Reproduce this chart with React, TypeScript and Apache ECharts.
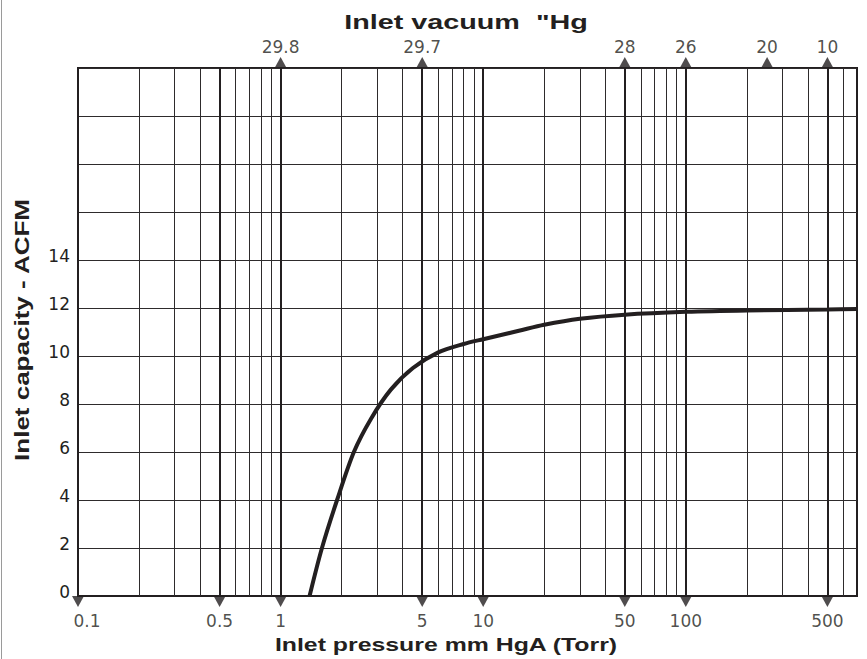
import React, { useEffect, useRef } from "react";
import * as echarts from "echarts";

// Curve: inlet pressure (Torr) vs inlet capacity (ACFM)
const pressure = [1.39, 1.6, 1.9, 2.3, 2.8, 3.5, 4.5, 6, 8, 10, 15, 20, 30, 50, 100, 200, 500, 700];
const capacity = [0, 2.0, 4.0, 6.0, 7.4, 8.6, 9.5, 10.15, 10.5, 10.7, 11.05, 11.3, 11.55, 11.72, 11.84, 11.9, 11.94, 11.96];

// Vertical grid lines (log paper)
const minorGrid = [0.2, 0.3, 0.4, 0.6, 0.7, 0.8, 0.9, 2, 3, 4, 6, 7, 8, 9, 20, 30, 40, 60, 70, 80, 90, 200, 300, 400, 600];
const majorGrid = [0.5, 1, 5, 10, 50, 100, 500];

// Bottom axis ticks (pressure, Torr)
const pressureTicks = [0.1, 0.5, 1, 5, 10, 50, 100, 500];
const pressureLabels = ["0.1", "0.5", "1", "5", "10", "50", "100", "500"];

// Top axis ticks (vacuum "Hg), placed at pressure
const vacuumTickPressure = [1, 5, 50, 100, 252, 500];
const vacuumLabels = ["29.8", "29.7", "28", "26", "20", "10"];

const X_MIN = 0.1;
const X_MAX = 700;
const Y_MIN = 0;
const Y_MAX = 22;
const Y_LABEL_MAX = 14;

const INK = "#231f20";
const GRID = "#2e2b2c";
const FONT = "Liberation Sans, Arial, sans-serif";
const NUM_FONT = "DejaVu Sans, sans-serif";

export default function App() {
  const ref = useRef<HTMLDivElement>(null);

  useEffect(() => {
    if (!ref.current) return;
    const chart = echarts.init(ref.current, undefined, { renderer: "svg" });

    const gridLines = [
      ...minorGrid.map((v) => ({ xAxis: v, lineStyle: { color: GRID, width: 1, type: "solid" } })),
      ...majorGrid.map((v) => ({ xAxis: v, lineStyle: { color: INK, width: 2, type: "solid" } })),
    ];

    const option: any = {
      animation: false,
      backgroundColor: "#ffffff",
      grid: {
        left: 78,
        right: 10,
        top: 68,
        bottom: 63,
        show: true,
        borderColor: INK,
        borderWidth: 2,
        backgroundColor: "transparent",
      },
      xAxis: {
        type: "log",
        logBase: 10,
        min: X_MIN,
        max: X_MAX,
        axisLine: { show: true, lineStyle: { color: INK, width: 2 } },
        axisTick: { show: false },
        axisLabel: { show: false },
        splitLine: { show: false },
      },
      yAxis: {
        type: "value",
        min: Y_MIN,
        max: Y_MAX,
        interval: 2,
        axisLine: { show: true, lineStyle: { color: INK, width: 2 } },
        axisTick: { show: false },
        axisLabel: {
          formatter: (v: number) => (v <= Y_LABEL_MAX ? String(v) : ""),
          color: INK,
          fontSize: 17,
          fontFamily: NUM_FONT,
          margin: 8,
          verticalAlign: "bottom",
          padding: [0, 0, -4, 0],
        },
        splitLine: { show: true, lineStyle: { color: GRID, width: 1 } },
      },
      graphic: [
        {
          type: "line",
          shape: { x1: 1.5, y1: 0, x2: 1.5, y2: 659 },
          style: { stroke: "#9a9a9a", lineWidth: 1 },
          silent: true,
        },
        {
          type: "text",
          x: 466,
          y: 21,
          scaleX: 1.37,
          style: {
            text: 'Inlet vacuum  "Hg',
            fill: INK,
            font: `bold 21px ${FONT}`,
            textAlign: "center",
            textVerticalAlign: "middle",
          },
        },
        {
          type: "text",
          x: 446,
          y: 645,
          scaleX: 1.38,
          style: {
            text: "Inlet pressure mm HgA (Torr)",
            fill: INK,
            font: `bold 18px ${FONT}`,
            textAlign: "center",
            textVerticalAlign: "middle",
          },
        },
        {
          type: "text",
          x: 22,
          y: 330,
          rotation: Math.PI / 2,
          scaleX: 1.3,
          style: {
            text: "Inlet capacity - ACFM",
            fill: INK,
            font: `bold 20px ${FONT}`,
            textAlign: "center",
            textVerticalAlign: "middle",
          },
        },
      ],
      series: [
        {
          type: "line",
          data: pressure.map((p, i) => [p, capacity[i]]),
          smooth: 0.3,
          showSymbol: false,
          symbol: "none",
          lineStyle: { color: INK, width: 4 },
          z: 5,
          markLine: {
            silent: true,
            symbol: ["none", "none"],
            label: { show: false },
            animation: false,
            data: gridLines,
            z: 1,
          },
        },
        {
          type: "scatter",
          clip: false,
          z: 6,
          symbol: "triangle",
          symbolRotate: 180,
          symbolSize: [12, 11],
          symbolOffset: [0, 5.5],
          itemStyle: { color: INK },
          data: pressureTicks.map((p, i) => ({
            value: [p, Y_MIN],
            label: i === 0 ? { offset: [9, 0] } : undefined,
          })),
          label: {
            show: true,
            position: "bottom",
            distance: 5,
            formatter: (pr: any) => pressureLabels[pr.dataIndex],
            color: INK,
            fontSize: 17,
            fontFamily: NUM_FONT,
          },
        },
        {
          type: "scatter",
          clip: false,
          z: 6,
          symbol: "triangle",
          symbolSize: [12, 11],
          symbolOffset: [0, -5.5],
          itemStyle: { color: INK },
          data: vacuumTickPressure.map((p) => [p, Y_MAX]),
          label: {
            show: true,
            position: "top",
            distance: 2,
            formatter: (pr: any) => vacuumLabels[pr.dataIndex],
            color: INK,
            fontSize: 17,
            fontFamily: NUM_FONT,
          },
        },
      ],
    };

    chart.setOption(option);
    return () => chart.dispose();
  }, []);

  return (
    <div
      ref={ref}
      style={{ position: "fixed", left: 0, top: 0, width: 867, height: 659, background: "#fff" }}
    />
  );
}
